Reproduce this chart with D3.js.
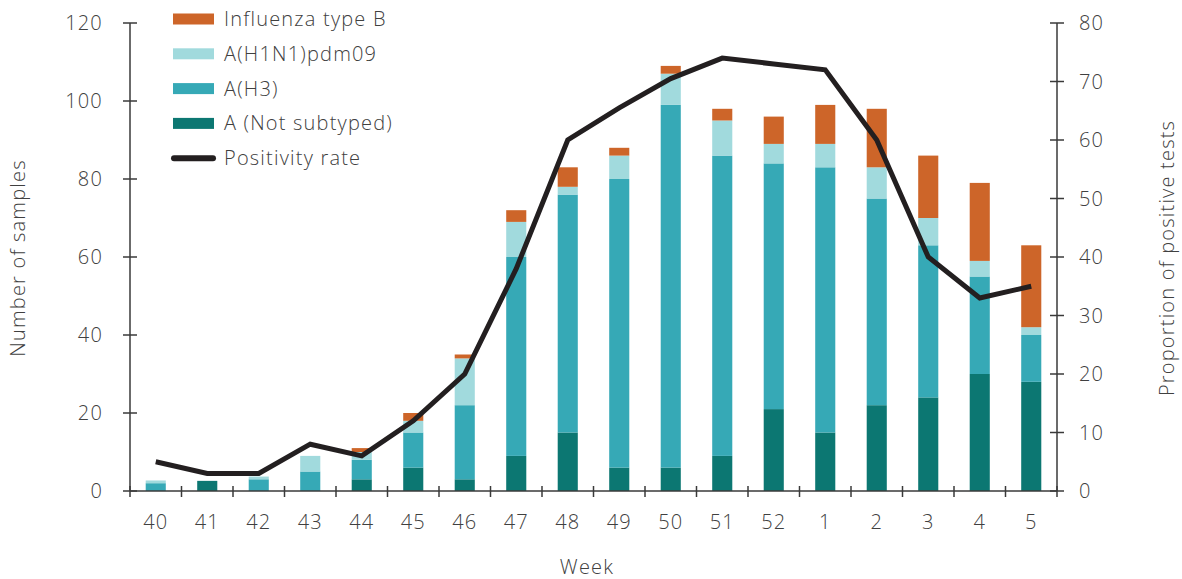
<!DOCTYPE html>
<html>
<head>
<meta charset="utf-8">
<script src="https://cdn.jsdelivr.net/npm/d3@7"></script>
<style>
  html, body { margin: 0; padding: 0; background: #fff; }
  svg { display: block; }
  text { font-family: "Open Sans", "DejaVu Sans", sans-serif; font-weight: 300; fill: #404040; letter-spacing: 1.2px; }
</style>
</head>
<body>
<svg id="chart" width="1182" height="579"></svg>
<script>
const weeks = ["40","41","42","43","44","45","46","47","48","49","50","51","52","1","2","3","4","5"];
const notSubtyped = [0, 2.6, 0, 0, 3, 6, 3, 9, 15, 6, 6, 9, 21, 15, 22, 24, 30, 28];
const h3          = [2, 0, 3, 5, 5, 9, 19, 51, 61, 74, 93, 77, 63, 68, 53, 39, 25, 12];
const h1n1        = [0.7, 0, 0.7, 4, 2, 3, 12, 9, 2, 6, 8, 9, 5, 6, 8, 7, 4, 2];
const typeB       = [0, 0, 0, 0, 1, 2, 1, 3, 5, 2, 2, 3, 7, 10, 15, 16, 20, 21];
const positivity  = [5, 3, 3, 8, 6, 12, 20, 38, 60, 65.5, 70.5, 74, 73, 72, 60, 40, 33, 35];
const leftTicks = [0, 20, 40, 60, 80, 100, 120];
const rightTicks = [0, 10, 20, 30, 40, 50, 60, 70, 80];

const seriesNames = ["A (Not subtyped)", "A(H3)", "A(H1N1)pdm09", "Influenza type B"];
const seriesColors = ["#0c7772", "#36a9b6", "#a1dadd", "#cd6529"];
const lineColor = "#231f20";

const svg = d3.select("#chart");
const x0 = 130, x1 = 1057, yTop = 23, yBot = 491;

const x = d3.scaleBand().domain(weeks).range([x0, x1]).paddingInner(0.61).paddingOuter(0.305);
const xOuter = d3.scaleBand().domain(weeks).range([x0, x1]);
const yL = d3.scaleLinear().domain([0, 120]).range([yBot, yTop]);
const yR = d3.scaleLinear().domain([0, 80]).range([yBot, yTop]);

const table = weeks.map((w, i) => ({
  week: w,
  "A (Not subtyped)": notSubtyped[i],
  "A(H3)": h3[i],
  "A(H1N1)pdm09": h1n1[i],
  "Influenza type B": typeB[i]
}));
const stacked = d3.stack().keys(seriesNames)(table);

// bars
svg.append("g").selectAll("g").data(stacked).join("g")
  .attr("fill", (d, i) => seriesColors[i])
  .selectAll("rect").data(d => d).join("rect")
  .attr("x", d => x(d.data.week))
  .attr("width", x.bandwidth())
  .attr("y", d => yL(d[1]))
  .attr("height", d => Math.max(0, yL(d[0]) - yL(d[1])));

// left axis
const axisColor = "#3a3a3a";
const gL = svg.append("g").attr("transform", `translate(${x0},0)`);
gL.append("line").attr("y1", yTop).attr("y2", yBot).attr("stroke", axisColor).attr("stroke-width", 1.5);
gL.selectAll(".t").data(leftTicks).join("line")
  .attr("x1", -7).attr("x2", 7).attr("y1", d => yL(d)).attr("y2", d => yL(d))
  .attr("stroke", axisColor).attr("stroke-width", 1.5);
gL.selectAll("text").data(leftTicks).join("text")
  .attr("x", -27).attr("y", d => yL(d)).attr("dy", "0.35em")
  .attr("text-anchor", "end").attr("font-size", 20).text(d => d);

// right axis
const gR = svg.append("g").attr("transform", `translate(${x1},0)`);
gR.append("line").attr("y1", yTop).attr("y2", yBot).attr("stroke", axisColor).attr("stroke-width", 1.5);
gR.selectAll(".t").data(rightTicks).join("line")
  .attr("x1", -7).attr("x2", 7).attr("y1", d => yR(d)).attr("y2", d => yR(d))
  .attr("stroke", axisColor).attr("stroke-width", 1.5);
gR.selectAll("text").data(rightTicks).join("text")
  .attr("x", 22).attr("y", d => yR(d)).attr("dy", "0.35em")
  .attr("text-anchor", "start").attr("font-size", 20).text(d => d);

// x axis
const gX = svg.append("g").attr("transform", `translate(0,${yBot})`);
gX.append("line").attr("x1", x0).attr("x2", x1).attr("stroke", axisColor).attr("stroke-width", 1.5);
const bounds = weeks.map(w => xOuter(w)).concat([x1]);
gX.selectAll(".t").data(bounds).join("line")
  .attr("x1", d => d).attr("x2", d => d).attr("y1", -5).attr("y2", 6)
  .attr("stroke", axisColor).attr("stroke-width", 1.5);
gX.selectAll("text").data(weeks).join("text")
  .attr("x", d => x(d) + x.bandwidth() / 2).attr("y", 31).attr("dy", "0.35em")
  .attr("text-anchor", "middle").attr("font-size", 20).text(d => d);

// positivity line
const line = d3.line()
  .x((d, i) => x(weeks[i]) + x.bandwidth() / 2)
  .y(d => yR(d));
svg.append("path").datum(positivity)
  .attr("d", line).attr("fill", "none")
  .attr("stroke", lineColor).attr("stroke-width", 5).attr("stroke-linejoin", "miter");

// axis titles
svg.append("text").attr("x", 587).attr("y", 567).attr("dy", "0.35em")
  .attr("text-anchor", "middle").attr("font-size", 20).text("Week");
svg.append("text").attr("transform", "translate(18,258) rotate(-90)").attr("dy", "0.35em")
  .attr("text-anchor", "middle").attr("font-size", 20).text("Number of samples");
svg.append("text").attr("transform", "translate(1167,258) rotate(-90)").attr("dy", "0.35em")
  .attr("text-anchor", "middle").attr("font-size", 20).text("Proportion of positive tests");

// legend
const legendItems = [
  { name: "Influenza type B", color: seriesColors[3], type: "rect" },
  { name: "A(H1N1)pdm09", color: seriesColors[2], type: "rect" },
  { name: "A(H3)", color: seriesColors[1], type: "rect" },
  { name: "A (Not subtyped)", color: seriesColors[0], type: "rect" },
  { name: "Positivity rate", color: lineColor, type: "line" }
];
const lg = svg.append("g");
const rowY = i => 19 + i * 34.8;
lg.selectAll("g").data(legendItems).join("g").each(function(d, i) {
  const g = d3.select(this);
  if (d.type === "rect") {
    g.append("rect").attr("x", 173).attr("y", rowY(i) - 5.5).attr("width", 41).attr("height", 11).attr("fill", d.color);
  } else {
    g.append("line").attr("x1", 174).attr("x2", 213).attr("y1", rowY(i)).attr("y2", rowY(i))
      .attr("stroke", d.color).attr("stroke-width", 6).attr("stroke-linecap", "round");
  }
  g.append("text").attr("x", 224).attr("y", rowY(i)).attr("dy", "0.35em").attr("font-size", 20).text(d.name);
});
</script>
</body>
</html>
